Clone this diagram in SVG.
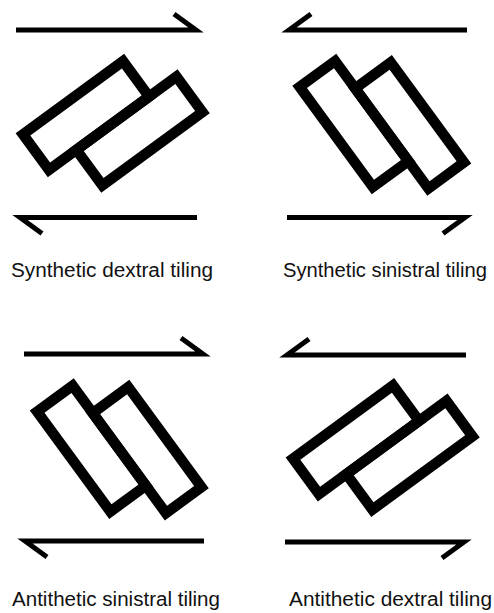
<svg xmlns="http://www.w3.org/2000/svg" width="494" height="613" viewBox="0 0 494 613">
<style>
.bg{fill:#ffffff}
.tile{fill:none;stroke:#000;stroke-width:10.5;stroke-linejoin:miter}
.arr{fill:none;stroke:#000;stroke-width:5;stroke-linejoin:miter;stroke-miterlimit:10;stroke-linecap:butt}
.lbl{font-family:"Liberation Sans","DejaVu Sans",sans-serif;font-size:20px;fill:#111}
</style>
<defs>
<g id="pairA">
<rect x="-62" y="-22" width="124" height="44"/>
<rect x="-28" y="22" width="124" height="44"/>
</g>
<g id="pairB">
<rect x="-62" y="-22" width="124" height="44"/>
<rect x="-28" y="-66" width="124" height="44"/>
</g>
</defs>
<rect class="bg" x="0" y="0" width="494" height="613"/>
<g id="panel-synthetic-dextral">
<g class="tile" transform="translate(86,115.5) rotate(-36.2)"><use href="#pairA"/></g>
<text class="lbl" x="11" y="277" textLength="202" lengthAdjust="spacingAndGlyphs">Synthetic dextral tiling</text>
</g>
<g id="panel-synthetic-sinistral">
<g class="tile" transform="translate(354,124) rotate(53.8)"><use href="#pairB"/></g>
<text class="lbl" x="283" y="277" textLength="204" lengthAdjust="spacingAndGlyphs">Synthetic sinistral tiling</text>
</g>
<g id="panel-antithetic-sinistral">
<g class="tile" transform="translate(91.5,448.6) rotate(53.8)"><use href="#pairB"/></g>
<text class="lbl" x="12" y="606" textLength="208" lengthAdjust="spacingAndGlyphs">Antithetic sinistral tiling</text>
</g>
<g id="panel-antithetic-dextral">
<g class="tile" transform="translate(356,439.8) rotate(-36.2)"><use href="#pairA"/></g>
<text class="lbl" x="289" y="606" textLength="203" lengthAdjust="spacingAndGlyphs">Antithetic dextral tiling</text>
</g>
<g id="connectors" class="arr">
<path d="M16,30 H196 L174,14"/>
<path d="M197,217.5 H20 L42,233.5"/>
<path d="M467,30 H289 L311,14"/>
<path d="M287,217.5 H465 L443,233.5"/>
<path d="M24,354 H203 L181,338"/>
<path d="M204,541 H25 L47,557"/>
<path d="M466,355 H287 L309,339"/>
<path d="M285,542 H464 L442,558"/>
</g>
</svg>
